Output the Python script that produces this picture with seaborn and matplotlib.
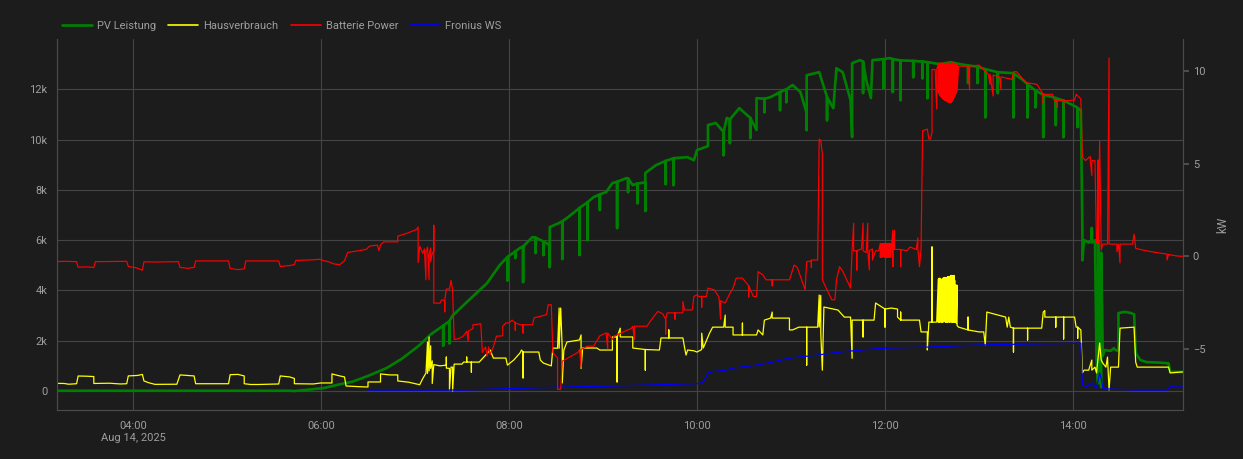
import pandas as pd
import matplotlib
matplotlib.use("Agg")
import matplotlib.pyplot as plt
from matplotlib.lines import Line2D
from matplotlib.ticker import FuncFormatter
import seaborn as sns

DAY = "2025-08-14"

# (time, W)
pv_leistung = [
    ("03:11", 10), ("05:40", 10), ("05:43", 0), ("05:50", 40), ("06:02", 120),
    ("06:10", 240), ("06:20", 370), ("06:30", 600), ("06:42", 915), ("06:52", 1300),
    ("07:03", 1830), ("07:10", 2250), ("07:18", 2600), ("07:18", 1800), ("07:18", 2600),
    ("07:22", 2780), ("07:22", 1900), ("07:22", 2780), ("07:24", 3000), ("07:35", 3650),
    ("07:46", 4290), ("07:54", 5000), ("07:59", 5330), ("07:59", 4400), ("07:59", 5330),
    ("08:04", 5550), ("08:04", 5290), ("08:04", 5550), ("08:07", 5690), ("08:09", 5750),
    ("08:09", 4330), ("08:09", 5750), ("08:15", 6120), ("08:17", 6100), ("08:17", 5490),
    ("08:17", 6100), ("08:22", 5950), ("08:22", 5410), ("08:22", 5950), ("08:26", 5800),
    ("08:26", 4930), ("08:26", 6520), ("08:32", 6680), ("08:34", 6750), ("08:34", 5250),
    ("08:34", 6750), ("08:37", 6880), ("08:45", 7280), ("08:45", 5410), ("08:45", 7280),
    ("08:50", 7500), ("08:50", 6000), ("08:50", 7500), ("08:54", 7710), ("08:58", 7820),
    ("08:58", 7200), ("08:58", 7820), ("09:02", 7910), ("09:06", 8270), ("09:09", 8320),
    ("09:09", 6480), ("09:09", 8320), ("09:15", 8470), ("09:16", 8450), ("09:16", 7910),
    ("09:16", 8450), ("09:19", 8190), ("09:22", 8250), ("09:22", 7470), ("09:22", 8250),
    ("09:27", 8300), ("09:27", 7160), ("09:27", 8670), ("09:34", 8990), ("09:40", 9150),
    ("09:40", 8230), ("09:40", 9150), ("09:45", 9260), ("09:45", 8190), ("09:45", 9260),
    ("09:54", 9300), ("09:58", 9180), ("10:00", 9580), ("10:07", 9740), ("10:07", 10580),
    ("10:12", 10660), ("10:17", 10300), ("10:17", 9380), ("10:17", 10300), ("10:19", 10860),
    ("10:21", 10800), ("10:21", 9860), ("10:21", 10800), ("10:27", 11250), ("10:34", 10860),
    ("10:34", 10060), ("10:34", 10860), ("10:38", 10380), ("10:38", 11650), ("10:43", 11620),
    ("10:43", 11090), ("10:43", 11620), ("10:47", 11690), ("10:53", 11890), ("10:53", 11170),
    ("10:53", 11890), ("10:57", 12000), ("10:57", 11490), ("10:57", 12000), ("11:01", 12170),
    ("11:06", 11890), ("11:10", 11050), ("11:10", 10380), ("11:10", 12560), ("11:18", 12680),
    ("11:23", 11690), ("11:23", 10770), ("11:23", 11690), ("11:27", 11250), ("11:29", 12840),
    ("11:33", 12680), ("11:38", 11570), ("11:39", 10100), ("11:39", 13040), ("11:44", 13160),
    ("11:46", 13100), ("11:46", 11850), ("11:46", 13100), ("11:48", 12370), ("11:51", 11650),
    ("11:52", 13160), ("11:59", 13200), ("11:59", 12050), ("11:59", 13200), ("12:03", 13240),
    ("12:05", 13200), ("12:05", 11890), ("12:05", 13200), ("12:10", 13150), ("12:10", 11570),
    ("12:10", 13150), ("12:18", 13130), ("12:18", 12480), ("12:18", 13130), ("12:24", 13100),
    ("12:24", 12440), ("12:24", 13100), ("12:27", 13080), ("12:27", 11650), ("12:27", 13080),
    ("12:35", 13000), ("12:42", 13080), ("12:48", 13000), ("12:53", 12950), ("12:53", 12250),
    ("12:53", 12950), ("12:59", 12900), ("12:59", 12250), ("12:59", 12900), ("13:04", 12800),
    ("13:04", 10890), ("13:04", 12800), ("13:12", 12680), ("13:12", 11850), ("13:12", 12680),
    ("13:22", 12640), ("13:22", 10890), ("13:22", 12640), ("13:28", 12370), ("13:31", 12200),
    ("13:31", 10890), ("13:31", 12200), ("13:36", 11950), ("13:36", 11290), ("13:36", 11950),
    ("13:41", 11780), ("13:41", 10100), ("13:41", 11780), ("13:47", 11690), ("13:49", 11650),
    ("13:49", 10580), ("13:49", 11650), ("13:54", 11550), ("13:54", 10100), ("13:54", 11550),
    ("13:56", 11490), ("14:02", 11300), ("14:03", 11250), ("14:03", 10500), ("14:03", 11250),
    ("14:05", 11170), ("14:06", 6280), ("14:06", 5200), ("14:07", 6000), ("14:10", 5900),
    ("14:12", 6000), ("14:12", 6480), ("14:12", 5900), ("14:14", 6000), ("14:15", 1310),
    ("14:16", 300), ("14:16", 6000), ("14:17", 1300), ("14:18", 150), ("14:18", 5500),
    ("14:19", 1400), ("14:20", 1630), ("14:24", 1600), ("14:26", 1700), ("14:28", 1600),
    ("14:29", 1650), ("14:29", 3100), ("14:33", 3150), ("14:37", 3100), ("14:39", 3050),
    ("14:40", 1510), ("14:43", 1230), ("14:47", 1150), ("14:55", 1130), ("15:01", 1100),
    ("15:02", 760), ("15:10", 760),
]

hausverbrauch = [
    ("03:10", 305), ("03:16", 300), ("03:19", 270), ("03:24", 290), ("03:25", 596),
    ("03:30", 590), ("03:35", 575), ("03:35", 300), ("03:45", 310), ("03:52", 280),
    ("03:56", 290), ("03:57", 600), ("04:03", 620), ("04:06", 660), ("04:07", 400),
    ("04:10", 330), ("04:14", 265), ("04:28", 270), ("04:30", 640), ("04:35", 620),
    ("04:39", 600), ("04:40", 290), ("05:01", 290), ("05:02", 650), ("05:07", 660),
    ("05:11", 600), ("05:11", 290), ("05:15", 260), ("05:20", 260), ("05:33", 280),
    ("05:34", 600), ("05:40", 560), ("05:43", 500), ("05:43", 290), ("05:55", 280),
    ("06:00", 320), ("06:07", 320), ("06:07", 680), ("06:12", 600), ("06:15", 560),
    ("06:16", 200), ("06:25", 170), ("06:30", 160), ("06:30", 360), ("06:38", 360),
    ("06:38", 680), ("06:44", 640), ("06:49", 640), ("06:49", 400), ("06:56", 350),
    ("07:03", 250), ("07:05", 500), ("07:07", 715), ("07:08", 1950), ("07:08", 700),
    ("07:09", 2150), ("07:09", 800), ("07:10", 1800), ("07:10", 900), ("07:11", 1200),
    ("07:11", 300), ("07:12", 1050), ("07:16", 1000), ("07:20", 1030), ("07:20", 1350),
    ("07:20", 910), ("07:22", 900), ("07:22", 40), ("07:23", 950), ("07:24", 950),
    ("07:24", 0), ("07:25", 1070), ("07:30", 1070), ("07:31", 1150), ("07:33", 1150),
    ("07:33", 1350), ("07:33", 1150), ("07:36", 1150), ("07:36", 750), ("07:36", 1150),
    ("07:41", 1150), ("07:48", 1630), ("07:50", 1310), ("07:58", 1310), ("07:59", 1030),
    ("08:03", 1230), ("08:07", 1510), ("08:08", 1630), ("08:09", 1550), ("08:09", 520),
    ("08:09", 1550), ("08:19", 1550), ("08:20", 1230), ("08:22", 1110), ("08:27", 1000),
    ("08:28", 1710), ("08:31", 1700), ("08:32", 3300), ("08:32", 1700), ("08:33", 3300),
    ("08:34", 1650), ("08:34", 320), ("08:35", 1630), ("08:37", 1950), ("08:45", 2030),
    ("08:46", 2230), ("08:46", 900), ("08:47", 1710), ("08:56", 1710), ("08:58", 1630),
    ("09:06", 1630), ("09:06", 2150), ("09:09", 2150), ("09:09", 360), ("09:09", 2150),
    ("09:11", 2500), ("09:11", 2150), ("09:19", 2150), ("09:19", 1710), ("09:27", 1650),
    ("09:27", 830), ("09:27", 1650), ("09:36", 1630), ("09:37", 2110), ("09:42", 2110),
    ("09:42", 2430), ("09:42", 2110), ("09:51", 2110), ("09:52", 1750), ("09:53", 1430),
    ("09:54", 1630), ("09:58", 1600), ("10:00", 1550), ("10:03", 1650), ("10:03", 2300),
    ("10:04", 1710), ("10:08", 2300), ("10:10", 2540), ("10:17", 2540), ("10:18", 3020),
    ("10:18", 2540), ("10:23", 2540), ("10:23", 2230), ("10:29", 2230), ("10:29", 2700),
    ("10:29", 2230), ("10:38", 2230), ("10:39", 2430), ("10:42", 2230), ("10:43", 2820),
    ("10:47", 2900), ("10:48", 3140), ("10:48", 2900), ("10:59", 2900), ("10:59", 2430),
    ("11:01", 2430), ("11:05", 2540), ("11:10", 2540), ("11:10", 1030), ("11:10", 2540),
    ("11:17", 2540), ("11:18", 3820), ("11:18", 2540), ("11:19", 3800), ("11:19", 2300),
    ("11:20", 830), ("11:21", 3340), ("11:30", 3220), ("11:34", 2940), ("11:38", 2940),
    ("11:39", 1300), ("11:39", 2820), ("11:46", 2820), ("11:46", 2150), ("11:46", 2820),
    ("11:53", 2820), ("11:54", 3500), ("12:00", 3260), ("12:00", 2540), ("12:00", 3260),
    ("12:04", 3300), ("12:08", 3260), ("12:08", 2940), ("12:10", 2820), ("12:10", 3140),
    ("12:10", 2820), ("12:22", 2820), ("12:23", 2350), ("12:27", 2350), ("12:27", 1630),
    ("12:28", 2740), ("12:30", 2740), ("12:30", 5730), ("12:30", 2740), ("12:33", 2740),
    # rapid switching 12:34 - 12:46
    ("12:34:00", 4450), ("12:34:00", 2740), ("12:34:30", 4480), ("12:34:30", 2740),
    ("12:35:00", 4490), ("12:35:00", 2740), ("12:35:30", 4450), ("12:35:30", 2750),
    ("12:36:00", 4400), ("12:36:00", 2740), ("12:36:30", 4460), ("12:36:30", 2740),
    ("12:37:00", 4490), ("12:37:00", 2740), ("12:37:30", 4500), ("12:37:30", 2760),
    ("12:38:00", 4520), ("12:38:00", 2760), ("12:38:30", 4500), ("12:38:30", 2740),
    ("12:39:00", 4490), ("12:39:00", 2740), ("12:39:30", 4520), ("12:39:30", 2740),
    ("12:40:00", 4550), ("12:40:00", 2740), ("12:40:30", 4540), ("12:40:30", 2750),
    ("12:41:00", 4520), ("12:41:00", 2740), ("12:41:30", 4560), ("12:41:30", 2740),
    ("12:42:00", 4600), ("12:42:00", 2750), ("12:42:30", 4580), ("12:42:30", 2740),
    ("12:43:00", 4570), ("12:43:00", 2740), ("12:43:30", 4590), ("12:43:30", 2740),
    ("12:44:00", 4600), ("12:44:00", 2740), ("12:44:30", 4400), ("12:44:30", 2740),
    ("12:45:00", 4210), ("12:45:00", 2740), ("12:45:30", 4210), ("12:45:30", 2700),
    ("12:46:00", 4210), ("12:46:00", 2600),
    ("12:47", 2540), ("12:53", 2430), ("12:53", 2940), ("12:53", 2430),
    ("13:00", 2350), ("13:03", 2350), ("13:04", 1830), ("13:05", 3140), ("13:17", 2940),
    ("13:18", 2540), ("13:19", 2940), ("13:20", 2540), ("13:22", 2500), ("13:22", 1550),
    ("13:22", 2500), ("13:31", 2500), ("13:31", 2030), ("13:31", 2500), ("13:40", 2500),
    ("13:41", 3140), ("13:42", 3200), ("13:42", 2940), ("13:49", 2940), ("13:49", 2540),
    ("13:49", 2940), ("13:54", 2940), ("13:54", 2070), ("13:54", 2940), ("14:01", 2940),
    ("14:02", 2540), ("14:03", 2540), ("14:03", 2100), ("14:03", 2540), ("14:05", 2430),
    ("14:06", 720), ("14:07", 830), ("14:10", 830), ("14:12", 1230), ("14:12", 830),
    ("14:14", 950), ("14:15", 720), ("14:17", 1910), ("14:18", 1230), ("14:19", 1110),
    ("14:21", 950), ("14:22", 1350), ("14:23", 40), ("14:24", 950), ("14:29", 950),
    ("14:30", 2500), ("14:39", 2540), ("14:40", 1150), ("14:41", 950), ("15:01", 950),
    ("15:02", 720), ("15:10", 760),
]

# (time, kW) on the right axis
batterie_power_kw = [
    ("03:10", -0.29), ("03:17", -0.27), ("03:24", -0.29), ("03:25", -0.59), ("03:30", -0.57),
    ("03:35", -0.60), ("03:36", -0.29), ("03:45", -0.28), ("03:56", -0.27), ("03:57", -0.55),
    ("04:02", -0.62), ("04:06", -0.75), ("04:07", -0.30), ("04:15", -0.31), ("04:29", -0.29),
    ("04:30", -0.60), ("04:35", -0.65), ("04:39", -0.60), ("04:40", -0.25), ("05:01", -0.25),
    ("05:02", -0.66), ("05:07", -0.72), ("05:11", -0.68), ("05:12", -0.25), ("05:33", -0.25),
    ("05:34", -0.55), ("05:40", -0.50), ("05:43", -0.45), ("05:44", -0.22), ("05:55", -0.19),
    ("05:59", -0.16), ("06:02", -0.24), ("06:05", -0.30), ("06:08", -0.41), ("06:12", -0.45),
    ("06:15", -0.24), ("06:17", 0.21), ("06:24", 0.30), ("06:29", 0.38), ("06:31", 0.55),
    ("06:36", 0.61), ("06:37", 0.30), ("06:38", 0.61), ("06:40", 0.78), ("06:49", 0.78),
    ("06:49", 1.09), ("06:55", 1.25), ("07:01", 1.45), ("07:02", 1.59), ("07:02", -0.34),
    ("07:03", 0.55), ("07:05", 0.16), ("07:06", 0.40), ("07:07", -1.27), ("07:07", 0.20),
    ("07:08", 0.50), ("07:09", -1.27), ("07:09", 0.10), ("07:10", 0.45), ("07:10", -0.30),
    ("07:11", 0.16), ("07:12", 0.30), ("07:12", 1.68), ("07:12", -2.53), ("07:16", -2.53),
    ("07:17", -2.35), ("07:19", -2.40), ("07:19", -3.00), ("07:19", -2.35), ("07:20", -1.77),
    ("07:22", -1.77), ("07:23", -1.30), ("07:24", -1.80), ("07:25", -4.50), ("07:28", -4.45),
    ("07:31", -4.30), ("07:33", -4.05), ("07:34", -4.60), ("07:34", -4.05), ("07:37", -3.90),
    ("07:37", -3.70), ("07:42", -3.65), ("07:43", -5.20), ("07:45", -4.90), ("07:46", -5.40),
    ("07:47", -4.90), ("07:48", -5.30), ("07:50", -4.90), ("07:52", -4.32), ("07:56", -4.30),
    ("07:56", -3.78), ("07:58", -3.60), ("08:00", -3.60), ("08:02", -3.45), ("08:04", -3.60),
    ("08:04", -4.00), ("08:04", -3.60), ("08:07", -3.70), ("08:09", -3.70), ("08:09", -4.15),
    ("08:09", -3.70), ("08:15", -3.70), ("08:16", -3.33), ("08:22", -3.20), ("08:24", -3.15),
    ("08:25", -2.62), ("08:27", -2.62), ("08:28", -5.20), ("08:31", -5.50), ("08:31", -7.19),
    ("08:33", -7.19), ("08:34", -5.67), ("08:44", -5.20), ("08:45", -5.04), ("08:46", -6.00),
    ("08:46", -5.04), ("08:50", -4.86), ("08:54", -4.86), ("08:58", -4.30), ("09:02", -4.14),
    ("09:03", -5.00), ("09:03", -4.14), ("09:06", -4.50), ("09:07", -4.32), ("09:18", -3.90),
    ("09:19", -3.78), ("09:20", -4.50), ("09:20", -3.78), ("09:28", -3.78), ("09:32", -3.30),
    ("09:35", -2.98), ("09:38", -3.10), ("09:40", -3.40), ("09:40", -4.20), ("09:40", -3.40),
    ("09:41", -3.06), ("09:46", -3.06), ("09:46", -3.40), ("09:46", -3.06), ("09:51", -3.06),
    ("09:51", -2.44), ("09:52", -2.90), ("09:57", -2.90), ("09:58", -2.17), ("10:00", -2.08),
    ("10:01", -2.17), ("10:03", -2.17), ("10:03", -2.75), ("10:03", -2.17), ("10:06", -2.17),
    ("10:07", -1.72), ("10:11", -1.81), ("10:14", -2.20), ("10:15", -3.40), ("10:15", -2.40),
    ("10:18", -2.53), ("10:21", -2.00), ("10:23", -1.72), ("10:25", -1.18), ("10:29", -1.18),
    ("10:33", -1.60), ("10:33", -2.20), ("10:33", -1.60), ("10:36", -2.17), ("10:38", -2.17),
    ("10:39", -0.83), ("10:42", -1.00), ("10:44", -1.27), ("10:48", -1.27), ("10:48", -1.60),
    ("10:48", -1.27), ("10:59", -1.27), ("11:02", -0.47), ("11:04", -0.60), ("11:09", -1.81),
    ("11:10", -0.29), ("11:13", -0.25), ("11:13", -0.60), ("11:13", -0.20), ("11:17", -0.20),
    ("11:18", 6.34), ("11:19", 6.25), ("11:20", 5.55), ("11:20", -1.27), ("11:26", -2.35),
    ("11:28", -2.35), ("11:29", -1.27), ("11:31", -0.56), ("11:33", -0.80), ("11:38", -1.72),
    ("11:39", 0.34), ("11:40", 1.79), ("11:40", 0.30), ("11:42", 0.30), ("11:42", -0.74),
    ("11:42", 0.30), ("11:45", 0.40), ("11:46", 1.79), ("11:46", 0.30), ("11:48", 0.20),
    ("11:49", 1.79), ("11:49", 0.30), ("11:50", -0.74), ("11:50", 0.30), ("11:52", 0.40),
    ("11:52", -0.20), ("11:54", 0.30), ("11:56", 0.30),
    # rapid switching 11:57 - 12:04
    ("11:57:00", 0.70), ("11:57:00", -0.05), ("11:57:30", 0.68), ("11:57:30", -0.04),
    ("11:58:00", 0.65), ("11:58:00", -0.05), ("11:58:30", 0.70), ("11:58:30", -0.03),
    ("11:59:00", 0.70), ("11:59:00", 0.00), ("11:59:30", 0.69), ("11:59:30", -0.05),
    ("12:00:00", 0.70), ("12:00:00", -0.05), ("12:00:30", 0.66), ("12:00:30", -0.04),
    ("12:01:00", 0.68), ("12:01:00", -0.05), ("12:01:30", 0.70), ("12:01:30", -0.05),
    ("12:02:00", 0.70), ("12:02:00", -0.03), ("12:02:30", 0.68), ("12:02:30", -0.05),
    ("12:03:00", 0.70), ("12:03:00", -0.05), ("12:03:30", 0.70), ("12:03:30", -0.04),
    ("12:04", 0.37), ("12:05", 1.41), ("12:05", -0.56),
    ("12:05", 0.37), ("12:06", 1.41), ("12:06", 0.37), ("12:10", 0.37), ("12:10", -0.56),
    ("12:10", 0.37), ("12:14", 0.30), ("12:16", 0.50), ("12:20", 0.37), ("12:21", 1.00),
    ("12:21", 0.37), ("12:22", -0.56), ("12:23", 0.40), ("12:24", 6.79), ("12:27", 6.88),
    ("12:28", 6.34), ("12:29", 6.34), ("12:30", 6.70), ("12:30", 10.10), ("12:32", 10.10),
    ("12:33", 7.97), ("12:33", 10.10),
    # rapid switching 12:34 - 12:46
    ("12:34:00", 10.40), ("12:34:00", 8.90), ("12:34:30", 10.44), ("12:34:30", 8.80),
    ("12:35:00", 10.46), ("12:35:00", 8.70), ("12:35:30", 10.42), ("12:35:30", 8.65),
    ("12:36:00", 10.40), ("12:36:00", 8.60), ("12:36:30", 10.44), ("12:36:30", 8.55),
    ("12:37:00", 10.46), ("12:37:00", 8.50), ("12:37:30", 10.42), ("12:37:30", 8.48),
    ("12:38:00", 10.40), ("12:38:00", 8.45), ("12:38:30", 10.44), ("12:38:30", 8.42),
    ("12:39:00", 10.46), ("12:39:00", 8.40), ("12:39:30", 10.42), ("12:39:30", 8.38),
    ("12:40:00", 10.40), ("12:40:00", 8.35), ("12:40:30", 10.44), ("12:40:30", 8.33),
    ("12:41:00", 10.46), ("12:41:00", 8.31), ("12:41:30", 10.42), ("12:41:30", 8.31),
    ("12:42:00", 10.40), ("12:42:00", 8.31), ("12:42:30", 10.44), ("12:42:30", 8.35),
    ("12:43:00", 10.46), ("12:43:00", 8.40), ("12:43:30", 10.42), ("12:43:30", 8.48),
    ("12:44:00", 10.40), ("12:44:00", 8.55), ("12:44:30", 10.44), ("12:44:30", 8.65),
    ("12:45:00", 10.46), ("12:45:00", 8.76), ("12:45:30", 10.42), ("12:45:30", 8.82),
    ("12:46:00", 10.40), ("12:46:00", 8.90),
    ("12:47", 10.28), ("12:53", 10.28),
    ("12:54", 9.00), ("12:54", 10.28), ("13:00", 10.34), ("13:05", 9.92), ("13:06", 9.84),
    ("13:07", 9.30), ("13:07", 9.84), ("13:09", 8.67), ("13:09", 9.80), ("13:13", 9.70),
    ("13:14", 9.00), ("13:14", 9.70), ("13:21", 9.57), ("13:22", 9.98), ("13:24", 9.98),
    ("13:30", 9.39), ("13:37", 9.30), ("13:41", 8.76), ("13:41", 8.25), ("13:41", 8.76),
    ("13:47", 8.76), ("13:48", 8.44), ("13:50", 8.44), ("13:50", 8.05), ("13:50", 8.44),
    ("13:54", 8.40), ("13:54", 8.05), ("13:54", 8.40), ("14:01", 8.45), ("14:02", 8.76),
    ("14:04", 8.60), ("14:05", 8.50), ("14:06", 5.36), ("14:08", 5.18), ("14:11", 5.40),
    ("14:11", 5.18), ("14:12", 4.37), ("14:12", 5.18), ("14:14", 5.18), ("14:15", 0.70),
    ("14:16", 0.70), ("14:16", 5.20), ("14:16", 0.70), ("14:17", 6.25), ("14:18", 0.34),
    ("14:19", 0.66), ("14:22", 0.66), ("14:23", 10.73), ("14:23", 0.66), ("14:25", 0.66),
    ("14:28", 0.66), ("14:28", 0.25), ("14:29", 0.66), ("14:30", -0.36), ("14:30", 0.66),
    ("14:38", 0.66), ("14:39", 1.20), ("14:40", 0.43), ("14:45", 0.33), ("14:50", 0.25),
    ("14:55", 0.18), ("15:00", 0.12), ("15:00", -0.20), ("15:01", 0.10), ("15:06", 0.02),
    ("15:10", 0.00),
]

fronius_ws = [
    ("06:30", 40), ("07:30", 40), ("08:07", 107), ("08:30", 150), ("09:00", 190),
    ("09:30", 240), ("10:02", 300), ("10:04", 360), ("10:07", 715), ("10:10", 770),
    ("10:19", 835), ("10:23", 910), ("10:38", 1030), ("10:48", 1150), ("10:51", 1190),
    ("10:59", 1310), ("11:17", 1430), ("11:31", 1550), ("11:38", 1590), ("11:52", 1670),
    ("12:03", 1710), ("12:29", 1750), ("13:00", 1830), ("13:32", 1870), ("14:05", 1900),
    ("14:06", 240), ("14:09", 160), ("14:10", 240), ("14:12", 320), ("14:15", 120),
    ("14:17", 720), ("14:18", 500), ("14:19", 120), ("14:23", 80), ("14:40", 40),
    ("15:00", 40), ("15:02", 160), ("15:04", 200), ("15:10", 200),
]

series_labels = ["PV Leistung", "Hausverbrauch", "Batterie Power", "Fronius WS"]
series_colors = ["#008000", "#ffff00", "#ff0000", "#0000ff"]
series_widths = [1.9, 0.9, 0.85, 0.9]

left_ticks = [0, 2000, 4000, 6000, 8000, 10000, 12000]
right_ticks = [-5, 0, 5, 10]
hour_ticks = ["04:00", "06:00", "08:00", "10:00", "12:00", "14:00"]
date_label = "Aug 14, 2025"

BG = "#1c1c1c"
GRID = "#444444"
TEXT = "#9e9e9e"


def to_frame(points):
    df = pd.DataFrame(points, columns=["time", "value"])
    df["time"] = pd.to_datetime(DAY + " " + df["time"], format="mixed")
    return df


sns.set_theme(style="dark")
plt.rcParams["font.family"] = ["Roboto", "DejaVu Sans"]

fig = plt.figure(figsize=(12.43, 4.59), dpi=100, facecolor=BG)
ax = fig.add_axes([57 / 1243, 1 - 410 / 459, 1126 / 1243, 371 / 459])
ax.set_facecolor(BG)
ax2 = ax.twinx()

frames = [to_frame(pv_leistung), to_frame(hausverbrauch),
          to_frame(batterie_power_kw), to_frame(fronius_ws)]
targets = [ax, ax, ax2, ax]
for df, target, color, lw in zip(frames, targets, series_colors, series_widths):
    sns.lineplot(data=df, x="time", y="value", ax=target, color=color, lw=lw,
                 estimator=None, sort=False, legend=False)

# axes ranges
ax.set_xlim(pd.Timestamp(DAY + " 03:11:30"), pd.Timestamp(DAY + " 15:10:12"))
ax.set_ylim(-755, 14000)
ax2.set_ylim(-8.31, 11.75)

tick_times = [pd.Timestamp(DAY + " " + t) for t in hour_ticks]
ax.set_xticks(tick_times)
ax.set_xticklabels([hour_ticks[0] + "\n" + date_label] + hour_ticks[1:])
ax.set_yticks(left_ticks)
ax.yaxis.set_major_formatter(FuncFormatter(lambda v, _: "0" if v == 0 else f"{int(v / 1000)}k"))
ax2.set_yticks(right_ticks)

ax.set_xlabel("")
ax.set_ylabel("")
ax2.set_ylabel("kW", color=TEXT, fontsize=8.5, labelpad=8)

ax.grid(True, color=GRID, lw=0.8)
ax2.grid(False)
ax.tick_params(axis="y", length=0, pad=7, labelsize=8, labelcolor=TEXT)
ax.tick_params(axis="x", length=4, color=GRID, pad=4, labelsize=8, labelcolor=TEXT)
ax2.tick_params(axis="y", length=4, color="#555555", pad=3, labelsize=8, labelcolor=TEXT)

for a in (ax, ax2):
    a.spines["top"].set_visible(False)
    for side in ("left", "right", "bottom"):
        a.spines[side].set_color("#4a4a4a")
        a.spines[side].set_linewidth(0.8)

handles = [Line2D([0], [0], color=c, lw=1.9 if w > 1.5 else 1.2) for c, w in zip(series_colors, series_widths)]
fig.legend(handles, series_labels, loc="upper left", bbox_to_anchor=(62 / 1243, 1 - 21 / 459),
           ncol=4, frameon=False, fontsize=8, labelcolor=TEXT, handlelength=2.7,
           handletextpad=0.45, columnspacing=1.1, borderaxespad=0, borderpad=0)

fig.savefig("out.png", dpi=100, facecolor=BG)
